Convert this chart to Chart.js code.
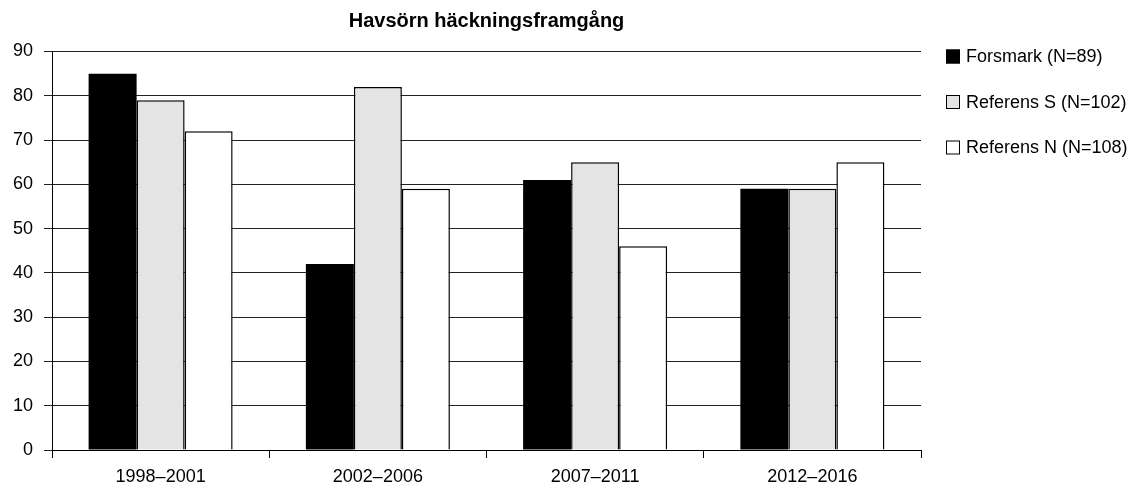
<!DOCTYPE html>
<html>
<head>
<meta charset="utf-8">
<title>Havsörn häckningsframgång</title>
<script src="https://cdn.jsdelivr.net/npm/chart.js@4"></script>
<style>
    html, body { margin: 0; padding: 0; background: #fff; }
    #wrap { width: 1141px; height: 486px; }
</style>
</head>
<body>
<div id="wrap"><canvas id="myChart" width="1141" height="486"></canvas></div>
<script>
const periods = ['1998–2001', '2002–2006', '2007–2011', '2012–2016'];
const forsmark = [85, 42, 61, 59];
const referensS = [79, 82, 65, 59];
const referensN = [72, 59, 46, 65];
const seriesNames = ['Forsmark (N=89)', 'Referens S (N=102)', 'Referens N (N=108)'];
const yTicks = [0, 10, 20, 30, 40, 50, 60, 70, 80, 90];

const fontFamily = '"Liberation Sans", Arial, Helvetica, sans-serif';

// legend on the right side, one row per dataset
const sideLegend = {
    id: 'sideLegend',
    afterDraw(chart) {
        const c = chart.ctx;
        const x = chart.chartArea.right + 25;
        let y = chart.chartArea.top + 5;
        c.save();
        c.font = '18px ' + fontFamily;
        c.textBaseline = 'middle';
        c.textAlign = 'left';
        chart.data.datasets.forEach((ds) => {
            c.fillStyle = ds.backgroundColor;
            c.fillRect(x, y - 7, 14, 14);
            c.strokeStyle = '#000';
            c.lineWidth = 1;
            c.strokeRect(x + 0.5, y - 6.5, 13, 13);
            c.fillStyle = '#000';
            c.fillText(ds.label, x + 20, y + 1);
            y += 45.5;
        });
        c.restore();
    }
};

const ctx = document.getElementById('myChart');
new Chart(ctx, {
    type: 'bar',
    data: {
        labels: periods,
        datasets: [
            // solid black bars need no outline
            { label: seriesNames[0], data: forsmark, backgroundColor: '#000000', borderWidth: 0 },
            { label: seriesNames[1], data: referensS, backgroundColor: '#e4e4e4', borderWidth: 1.5 },
            { label: seriesNames[2], data: referensN, backgroundColor: '#ffffff', borderWidth: 1.5 }
        ].map((ds) => Object.assign(ds, {
            borderColor: '#000',
            borderSkipped: 'start',
            barPercentage: 1,
            categoryPercentage: 0.663
        }))
    },
    options: {
        responsive: false,
        animation: false,
        layout: { padding: { left: 0, right: 220, top: 0, bottom: 0 } },
        plugins: {
            legend: { display: false },
            tooltip: { enabled: false },
            title: {
                display: true,
                text: 'Havsörn häckningsframgång',
                fullSize: false,
                color: '#000',
                font: { family: fontFamily, size: 20, weight: 'bold' },
                padding: { top: 9, bottom: 18.5 }
            }
        },
        scales: {
            x: {
                grid: {
                    offset: true,
                    drawOnChartArea: false,
                    drawTicks: true,
                    tickLength: 8,
                    color: '#000'
                },
                border: { display: true, color: '#000', width: 1 },
                ticks: {
                    color: '#000',
                    padding: 8,
                    font: { family: fontFamily, size: 18 }
                },
                afterFit(scale) { scale.height = 36; }
            },
            y: {
                min: 0,
                max: 90,
                afterBuildTicks(scale) {
                    scale.ticks = yTicks.map((v) => ({ value: v }));
                },
                grid: {
                    color: '#222',
                    lineWidth: 1,
                    tickLength: 8
                },
                border: { display: true, color: '#000', width: 1 },
                ticks: {
                    color: '#000',
                    padding: 11,
                    font: { family: fontFamily, size: 18 }
                },
                afterFit(scale) { scale.width = 52; }
            }
        }
    },
    plugins: [sideLegend]
});
</script>
</body>
</html>
